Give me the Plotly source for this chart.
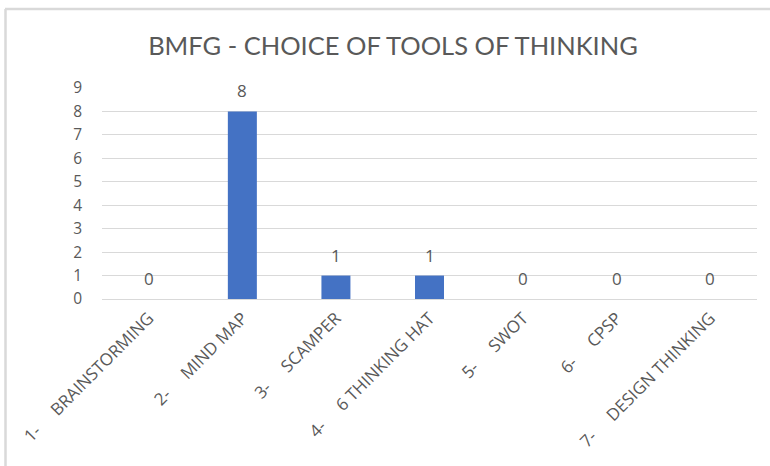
import plotly.graph_objects as go

SP = "\u00a0" * 5
categories = ["1-" + SP + "BRAINSTORMING", "2-" + SP + "MIND MAP",
              "3-" + SP + "SCAMPER", "4-" + SP + "6 THINKING HAT",
              "5-" + SP + "SWOT", "6-" + SP + "CPSP",
              "7-" + SP + "DESIGN THINKING"]
values = [0, 8, 1, 1, 0, 0, 0]
y_ticks = list(range(0, 10))

W, H = 770, 466
L, R, T, B = 102, 13, 88, 167
pw, ph = W - L - R, H - T - B

FONT = "'Open Sans', sans-serif"
TFONT = "Lato, sans-serif"
GRAY = "#595959"

fig = go.Figure(go.Bar(x=categories, y=values, marker_color="#4472C4", marker_line_width=0,
                       width=0.31, hoverinfo="x+y"))

annotations = [dict(x=c, y=v, text=str(v), showarrow=False, yanchor="bottom", yshift=7,
                    font=dict(family=FONT, size=17, color=GRAY)) for c, v in zip(categories, values)]

def px_to_paper_x(px):
    return (px - L) / pw

def px_to_paper_y(py):
    return (H - B - py) / ph

shapes = [
    dict(type="line", xref="paper", yref="paper", x0=px_to_paper_x(5), x1=px_to_paper_x(770),
         y0=px_to_paper_y(9), y1=px_to_paper_y(9), line=dict(color="#D9D9D9", width=2.5)),
    dict(type="line", xref="paper", yref="paper", x0=px_to_paper_x(5.5), x1=px_to_paper_x(5.5),
         y0=px_to_paper_y(9), y1=px_to_paper_y(466), line=dict(color="#D9D9D9", width=2.5)),
]

fig.update_layout(
    width=W, height=H,
    margin=dict(l=L, r=R, t=T, b=B, autoexpand=False),
    paper_bgcolor="white", plot_bgcolor="white",
    title=dict(text="BMFG - CHOICE OF TOOLS OF THINKING", x=393 / W, xanchor="center",
               y=1 - 46 / H, yanchor="middle",
               font=dict(family=TFONT, size=25.5, color=GRAY)),
    annotations=annotations,
    shapes=shapes,
    showlegend=False,
    font=dict(family=FONT, color=GRAY),
)
fig.update_xaxes(tickangle=-45, tickfont=dict(family=FONT, size=17, color=GRAY),
                 showgrid=False, showline=False, ticks="", automargin=False, ticklabelstandoff=5)
fig.update_yaxes(range=[0, 9], tickvals=y_ticks, tickfont=dict(family=FONT, size=15.5, color=GRAY),
                 showgrid=True, gridcolor="#D9D9D9", gridwidth=1, zeroline=True, zerolinecolor="#D9D9D9",
                 zerolinewidth=1, showline=False, ticks="", ticklabelstandoff=19, fixedrange=True,
                 automargin=False)

fig.write_html("out.html", config={"displayModeBar": False},
               post_script="document.body.style.margin='0';")
